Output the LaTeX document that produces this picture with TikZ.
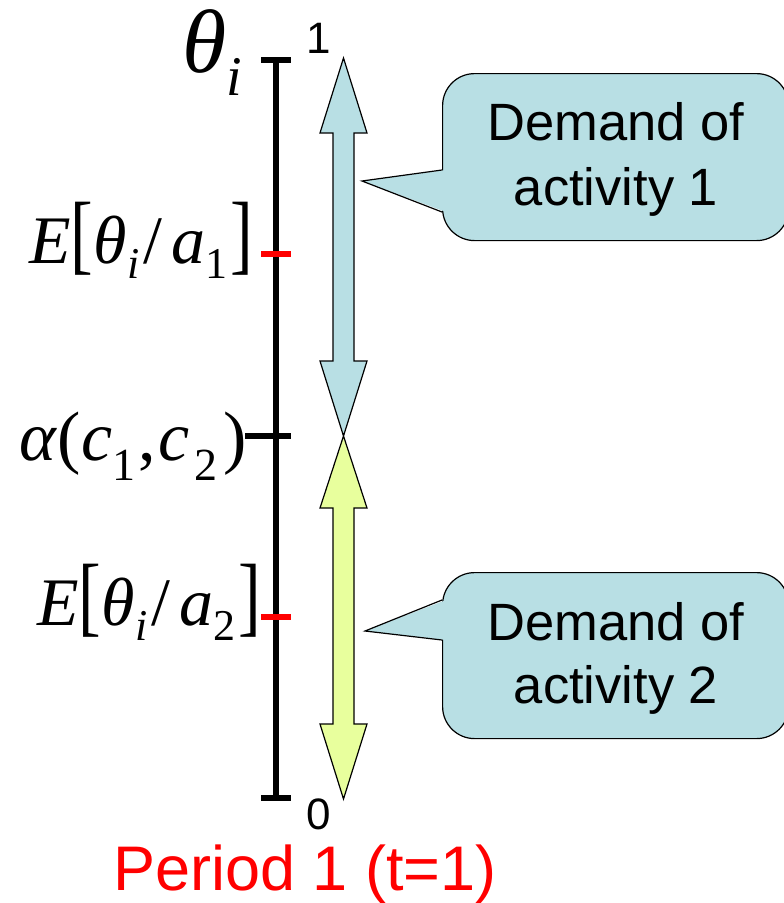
\documentclass[tikz,border=0pt]{standalone}
\usepackage{graphicx}
\usepackage{fontspec}
\newfontfamily\arialf{Liberation Sans}
\newfontfamily\tnrf{Liberation Serif}
\definecolor{calloutblue}{RGB}{184,223,228}
\definecolor{arrowblue}{RGB}{184,223,228}
\definecolor{arrowyellow}{RGB}{232,255,157}
\definecolor{pred}{RGB}{255,0,0}
% subscript: size, drop, text
\newcommand\ssub[3]{\raisebox{-#2}{\fontsize{#1}{#1}\selectfont #3}}
\newcommand\tallbkt[1]{\scalebox{1}[1.3]{#1}}
\begin{document}
\begin{tikzpicture}[x=1pt,y=-1pt,
  axisline/.style={line width=6pt},
  redtick/.style={line width=6.5pt,pred},
  mathlbl/.style={inner sep=0pt,anchor=base east,font=\tnrf\fontsize{68}{80}\selectfont},
  numlbl/.style={inner sep=0pt,anchor=base,font=\arialf\fontsize{44}{50}\selectfont},
  calltxt/.style={inner sep=0pt,anchor=base,font=\arialf\fontsize{52.5}{60}\selectfont},
  callbox/.style={draw=black,line width=1.2pt,fill=calloutblue,rounded corners=32pt,
                  inner sep=0pt,minimum width=346pt},
  blockarrow/.style={draw=black,line width=1.2pt,line join=miter}
]
\useasboundingbox (0,0) rectangle (784,903);

% axis
\coordinate (top) at (276,60);
\coordinate (bot) at (276,798);
\draw[axisline] (top) -- (bot);
\draw[axisline] (261,60) -- (291,60);
\draw[axisline] (261,798) -- (291,798);
\draw[redtick] (261,254) -- (291,254);
\draw[redtick] (261,617) -- (291,617);
\draw[axisline] (245,436) -- (291,436);

% labels on axis
\node[mathlbl,font=\tnrf\fontsize{90}{100}\selectfont] (theta) at (242,72)
  {\textit{θ}\ssub{56}{23pt}{\textit{i}}};
\node[mathlbl] (e1) at (253,263)
  {\textit{E}\tallbkt{[}\textit{θ}\ssub{44}{15pt}{\textit{i}}\hspace{4pt}/\hspace{9pt}\textit{a}\ssub{44}{15pt}{1}\hspace{3pt}\tallbkt{]}};
\node[mathlbl,font=\tnrf\fontsize{70}{80}\selectfont] (alpha) at (247,460)
  {\textit{α}(\hspace{1pt}\textit{c}\ssub{46}{20pt}{1}\hspace{3pt},\hspace{2pt}\textit{c}\hspace{5pt}\ssub{46}{20pt}{2}\hspace{6pt})};
\node[mathlbl] (e2) at (261,625)
  {\textit{E}\tallbkt{[}\textit{θ}\ssub{44}{15pt}{\textit{i}}\hspace{4pt}/\hspace{9pt}\textit{a}\ssub{44}{15pt}{2}\hspace{3pt}\tallbkt{]}};

\node[numlbl] (one) at (319,53) {1};
\node[numlbl] (zero) at (319,829) {0};

% double arrows
\draw[blockarrow,fill=arrowblue] (343.5,58) -- (367,133) -- (354,133) -- (354,361) -- (367,361)
  -- (343.5,436) -- (320,361) -- (333,361) -- (333,133) -- (320,133) -- cycle;
\draw[blockarrow,fill=arrowyellow] (343.5,436) -- (367,508) -- (354,508) -- (354,724) -- (367,724)
  -- (343.5,799) -- (320,724) -- (333,724) -- (333,508) -- (320,508) -- cycle;

% callout 1
\node[callbox,minimum height=167pt,anchor=north west] (c1) at (442,73) {};
\fill[calloutblue] (446,212) -- (362,181) -- (446,170) -- cycle;
\draw[line width=1.2pt,line join=miter] (c1.west |- 0,212) -- (362,181) -- (c1.west |- 0,170);
\node[calltxt] (c1a) at (616,140) {Demand of};
\node[calltxt] (c1b) at (616,205) {activity 1};

% callout 2
\node[callbox,minimum height=166pt,anchor=north west] (c2) at (442,572) {};
\fill[calloutblue] (446,600) -- (365,631) -- (446,640) -- cycle;
\draw[line width=1.2pt,line join=miter] (c2.west |- 0,600) -- (365,631) -- (c2.west |- 0,640);
\node[calltxt] (c2a) at (616,640) {Demand of};
\node[calltxt] (c2b) at (616,703) {activity 2};

% period label
\node[inner sep=0pt,anchor=base,text=pred,font=\arialf\fontsize{63}{70}\selectfont] (period) at (305,890) {Period 1 (t=1)};
\end{tikzpicture}
\end{document}
